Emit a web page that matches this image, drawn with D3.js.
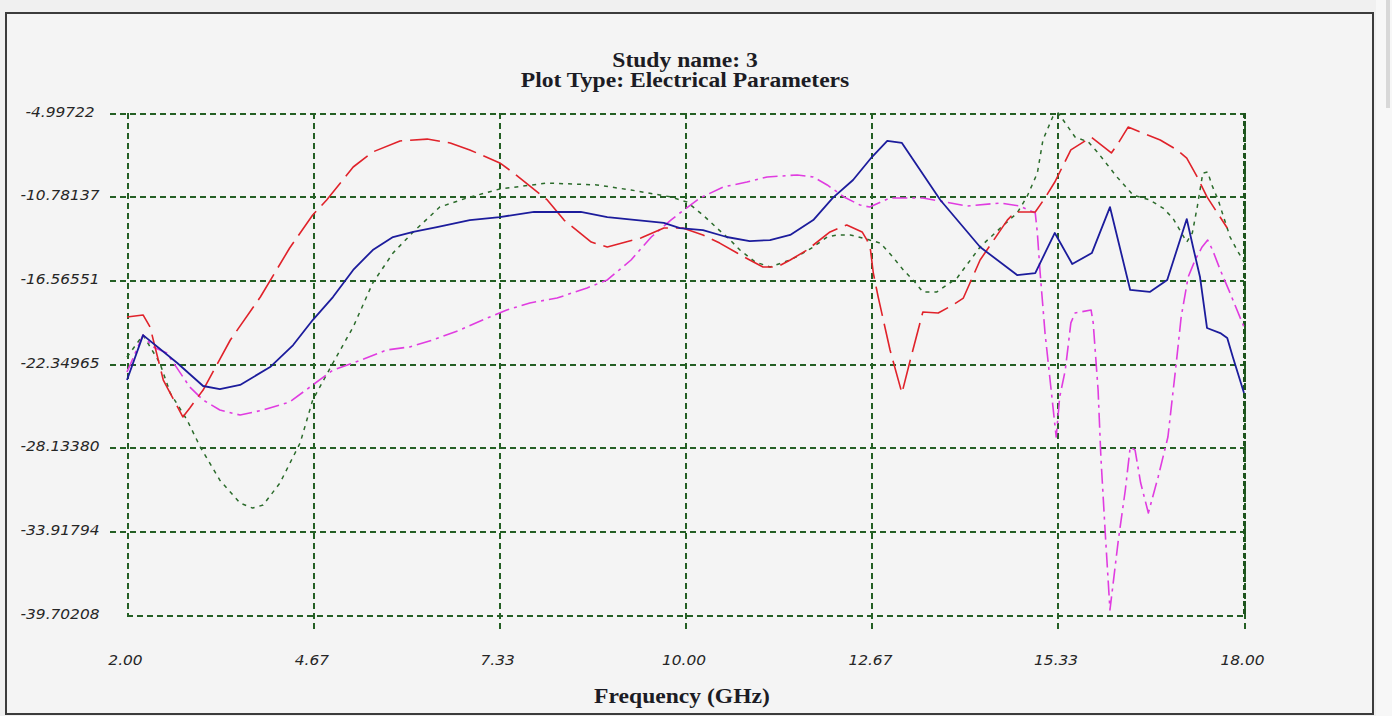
<!DOCTYPE html>
<html>
<head>
<meta charset="utf-8">
<script src="https://cdn.jsdelivr.net/npm/d3@7"></script>
<style>
  body { margin: 0; background: #f0f0f0; }
  svg { display: block; }
</style>
</head>
<body>
<div id="chart"></div>
<script>
// tick labels
var xTicks = [2.00, 4.67, 7.33, 10.00, 12.67, 15.33, 18.00];
var yTicks = [-4.99722, -10.78137, -16.56551, -22.34965, -28.13380, -33.91794, -39.70208];

// [frequency GHz, value]
var blueSeries = [
  [2.00,-23.46],[2.23,-20.35],[2.72,-22.28],[3.09,-23.87],[3.33,-24.08],[3.62,-23.80],
  [4.05,-22.56],[4.38,-21.04],[4.66,-19.31],[4.95,-17.72],[5.24,-15.85],[5.52,-14.47],
  [5.81,-13.57],[6.10,-13.22],[6.44,-12.88],[6.91,-12.40],[7.34,-12.19],[7.83,-11.84],
  [8.50,-11.84],[8.88,-12.19],[9.69,-12.60],[9.92,-12.95],[10.25,-13.09],[10.59,-13.57],
  [10.92,-13.85],[11.21,-13.78],[11.50,-13.43],[11.83,-12.40],[12.11,-10.87],[12.40,-9.63],
  [12.67,-8.04],[12.89,-6.93],[13.10,-7.07],[13.65,-11.01],[14.22,-14.26],[14.75,-16.20],
  [15.01,-16.06],[15.29,-13.29],[15.54,-15.44],[15.82,-14.68],[16.08,-11.50],[16.37,-17.23],
  [16.65,-17.37],[16.90,-16.54],[17.18,-12.33],[17.27,-14.26],[17.37,-16.34],[17.47,-19.86],
  [17.66,-20.21],[17.76,-20.55],[17.84,-21.87],[18.00,-24.36]
];
var redSeries = [
  [2.00,-19.10],[2.23,-18.96],[2.33,-19.79],[2.52,-23.46],[2.80,-26.01],[2.90,-25.39],
  [3.09,-24.15],[3.48,-20.69],[3.91,-17.72],[4.33,-14.33],[4.66,-12.05],[4.86,-11.01],
  [5.24,-8.73],[5.52,-7.69],[5.91,-6.93],[6.30,-6.80],[6.63,-7.07],[6.91,-7.55],
  [7.34,-8.45],[7.54,-9.15],[8.02,-11.01],[8.26,-12.40],[8.65,-13.92],[8.88,-14.26],
  [9.36,-13.64],[9.69,-12.95],[9.96,-12.95],[10.25,-13.43],[10.49,-13.99],[10.74,-14.68],
  [10.92,-15.16],[11.11,-15.64],[11.31,-15.64],[11.50,-15.16],[11.74,-14.47],[12.07,-13.22],
  [12.31,-12.74],[12.53,-13.22],[12.60,-13.78],[12.65,-14.47],[12.69,-16.06],[12.76,-17.72],
  [12.93,-21.38],[13.10,-24.36],[13.22,-22.07],[13.40,-18.75],[13.62,-18.82],[13.83,-18.27],
  [13.98,-17.79],[14.22,-15.16],[14.61,-12.40],[14.72,-11.84],[15.01,-11.84],[15.15,-10.87],
  [15.29,-9.77],[15.52,-7.55],[15.81,-6.66],[16.10,-7.76],[16.20,-7.07],[16.34,-5.97],
  [16.80,-6.86],[17.04,-7.55],[17.18,-8.11],[17.33,-9.42],[17.47,-10.80],[17.76,-12.95]
];
var greenSeries = [
  [2.00,-21.87],[2.23,-20.35],[2.47,-22.28],[2.62,-24.36],[2.86,-26.22],[3.05,-28.09],
  [3.33,-30.38],[3.62,-31.96],[3.80,-32.31],[3.95,-32.10],[4.19,-30.58],[4.48,-27.81],
  [4.66,-24.84],[4.95,-22.28],[5.24,-19.79],[5.52,-16.75],[5.81,-14.68],[6.10,-13.22],
  [6.48,-11.50],[6.87,-10.87],[7.34,-10.25],[8.02,-9.84],[8.73,-9.97],[9.22,-10.32],
  [9.79,-10.80],[10.02,-11.15],[10.25,-12.05],[10.45,-12.95],[10.64,-13.78],[10.78,-14.47],
  [11.00,-15.30],[11.21,-15.64],[11.50,-15.16],[11.64,-14.81],[11.83,-14.26],[12.03,-13.57],
  [12.17,-13.43],[12.36,-13.43],[12.54,-13.64],[12.79,-13.99],[12.97,-14.95],[13.12,-15.85],
  [13.26,-16.54],[13.40,-17.37],[13.60,-17.37],[13.89,-16.40],[14.22,-14.26],[14.51,-12.95],
  [14.75,-11.91],[14.89,-10.80],[15.04,-9.15],[15.12,-6.86],[15.26,-5.27],[15.34,-5.00],
  [15.58,-6.66],[15.77,-7.00],[15.91,-7.76],[16.18,-9.42],[16.41,-10.67],[16.65,-11.01],
  [16.84,-11.57],[16.98,-12.26],[17.18,-13.92],[17.26,-13.29],[17.33,-11.50],[17.41,-9.15],
  [17.48,-9.08],[17.54,-9.97],[17.63,-11.01],[17.80,-13.57],[17.90,-14.47],[18.00,-15.30]
];
var magentaSeries = [
  [2.00,-22.90],[2.23,-20.35],[2.37,-21.17],[2.57,-21.59],[2.90,-23.94],[3.09,-24.84],
  [3.33,-25.53],[3.62,-25.88],[3.95,-25.53],[4.33,-24.98],[4.66,-23.80],[4.95,-22.77],
  [5.24,-22.28],[5.72,-21.38],[6.05,-21.17],[6.38,-20.69],[6.77,-20.00],[7.16,-19.17],
  [7.44,-18.62],[7.77,-18.13],[8.16,-17.79],[8.59,-17.09],[8.88,-16.54],[9.22,-15.16],
  [9.51,-13.57],[9.79,-12.40],[9.92,-11.91],[10.21,-10.87],[10.54,-10.11],[10.88,-9.77],
  [11.17,-9.42],[11.60,-9.28],[11.83,-9.42],[12.03,-9.97],[12.27,-10.80],[12.50,-11.36],
  [12.64,-11.50],[12.93,-10.87],[13.40,-10.87],[14.03,-11.43],[14.51,-11.22],[14.79,-11.43],
  [15.01,-11.91],[15.04,-13.29],[15.08,-16.06],[15.15,-20.21],[15.31,-27.40],[15.36,-24.63],
  [15.44,-22.77],[15.52,-19.51],[15.58,-18.82],[15.81,-18.62],[15.84,-19.51],[15.91,-24.15],
  [15.95,-28.78],[16.01,-33.83],[16.08,-39.35],[16.20,-34.52],[16.30,-31.06],[16.37,-28.09],
  [16.44,-28.30],[16.52,-30.58],[16.63,-32.65],[16.77,-30.16],[16.91,-27.40],[17.03,-22.28],
  [17.10,-19.10],[17.20,-16.34],[17.30,-15.16],[17.40,-14.26],[17.48,-13.78],[17.55,-14.47],
  [17.66,-15.85],[17.80,-17.44],[18.00,-19.79]
];

var svgWidth = 1392;
var svgHeight = 716;
var margin = { top: 113, right: 148, bottom: 101, left: 127 };
var width = svgWidth - margin.left - margin.right;
var height = svgHeight - margin.top - margin.bottom;
var stretch = 1.18;   // the picture is a little wider than tall

var svg = d3.select("#chart")
  .append("svg")
  .attr("width", svgWidth)
  .attr("height", svgHeight);

// window background + panel
svg.append("rect")
  .attr("x", 1376).attr("y", 0).attr("width", 16).attr("height", svgHeight)
  .attr("fill", "#f7f7f7");
svg.append("rect")
  .attr("x", 1386).attr("y", 0).attr("width", 4).attr("height", 108)
  .attr("fill", "#d8d8d8");
svg.append("rect")
  .attr("x", 6).attr("y", 13).attr("width", 1367).attr("height", 701)
  .attr("fill", "#f4f4f4")
  .attr("stroke", "#3c3c3c")
  .attr("stroke-width", 2);

var chartGroup = svg.append("g")
  .attr("transform", `translate(${margin.left}, ${margin.top})`);

var xScale = d3.scaleLinear().domain([2, 18]).range([0, width]);
var yScale = d3.scaleLinear().domain([-39.70208, -4.99722]).range([height, 0]);

var gridColor = "#245f24";

// horizontal grid + y labels
var yAxis = chartGroup.append("g")
  .call(d3.axisLeft(yScale)
    .tickValues(yTicks)
    .tickSize(-(width + 17))
    .tickFormat(d => d.toFixed(5)));
yAxis.select(".domain").remove();
yAxis.selectAll(".tick line")
  .attr("x1", -17)
  .attr("x2", width)
  .attr("stroke", gridColor)
  .attr("stroke-width", 2)
  .attr("stroke-dasharray", "6,4")
  .attr("shape-rendering", "crispEdges");
yAxis.selectAll(".tick").filter(d => d === yTicks[yTicks.length - 1])
  .select("line").attr("x1", 0);
yAxis.selectAll(".tick text")
  .attr("x", 0)
  .attr("dy", 0)
  .attr("text-anchor", "middle")
  .attr("transform", `translate(${60 - margin.left}, 3) scale(1.1,1)`)
  .attr("font-family", "DejaVu Sans")
  .attr("font-style", "italic")
  .attr("font-size", "14px")
  .attr("fill", "#262626");

// vertical grid + x labels
var xAxis = chartGroup.append("g")
  .attr("transform", `translate(0, ${height})`)
  .call(d3.axisBottom(xScale)
    .tickValues(xTicks)
    .tickSize(18)
    .tickFormat(d => d.toFixed(2)));
xAxis.select(".domain").remove();
xAxis.selectAll(".tick line")
  .attr("y1", -height)
  .attr("y2", d => d === xTicks[0] ? 0 : 18)
  .attr("stroke", gridColor)
  .attr("stroke-width", 2)
  .attr("stroke-dasharray", "6,4")
  .attr("shape-rendering", "crispEdges");
xAxis.selectAll(".tick text")
  .attr("y", 0)
  .attr("dy", 0)
  .attr("text-anchor", "middle")
  .attr("transform", `translate(-2, 50) scale(1.1,1)`)
  .attr("font-family", "DejaVu Sans")
  .attr("font-style", "italic")
  .attr("font-size", "14px")
  .attr("fill", "#262626");

// heavier right edge
chartGroup.append("line")
  .attr("x1", xScale(18)).attr("x2", xScale(18))
  .attr("y1", 0).attr("y2", height)
  .attr("stroke", "#1d531d")
  .attr("stroke-width", 3)
  .attr("stroke-dasharray", "5,3")
  .attr("shape-rendering", "crispEdges");

// series
var lineGen = d3.line()
  .x(d => xScale(d[0]))
  .y(d => yScale(d[1]));

var seriesList = [
  { data: greenSeries, color: "#2b6b2b", width: 1.5, dash: "4,5" },
  { data: magentaSeries, color: "#e03ce0", width: 1.6, dash: "15,5,3,5" },
  { data: redSeries, color: "#e0222a", width: 1.6, dash: "30,8" },
  { data: blueSeries, color: "#1c1c9c", width: 1.8, dash: null }
];

seriesList.forEach(function (s) {
  chartGroup.append("path")
    .datum(s.data)
    .attr("d", lineGen)
    .attr("fill", "none")
    .attr("stroke", s.color)
    .attr("stroke-width", s.width)
    .attr("stroke-dasharray", s.dash)
    .attr("stroke-linejoin", "round");
});

// titles
function serifText(txt, cx, y) {
  svg.append("text")
    .attr("transform", `translate(${cx}, ${y}) scale(${stretch},1)`)
    .attr("text-anchor", "middle")
    .attr("font-family", "Liberation Serif")
    .attr("font-weight", "bold")
    .attr("font-size", "20px")
    .attr("fill", "#1c1c24")
    .text(txt);
}
serifText("Study name: 3", 685, 67);
serifText("Plot Type: Electrical Parameters", 685, 87);
serifText("Frequency (GHz)", 682, 703);
</script>
</body>
</html>
